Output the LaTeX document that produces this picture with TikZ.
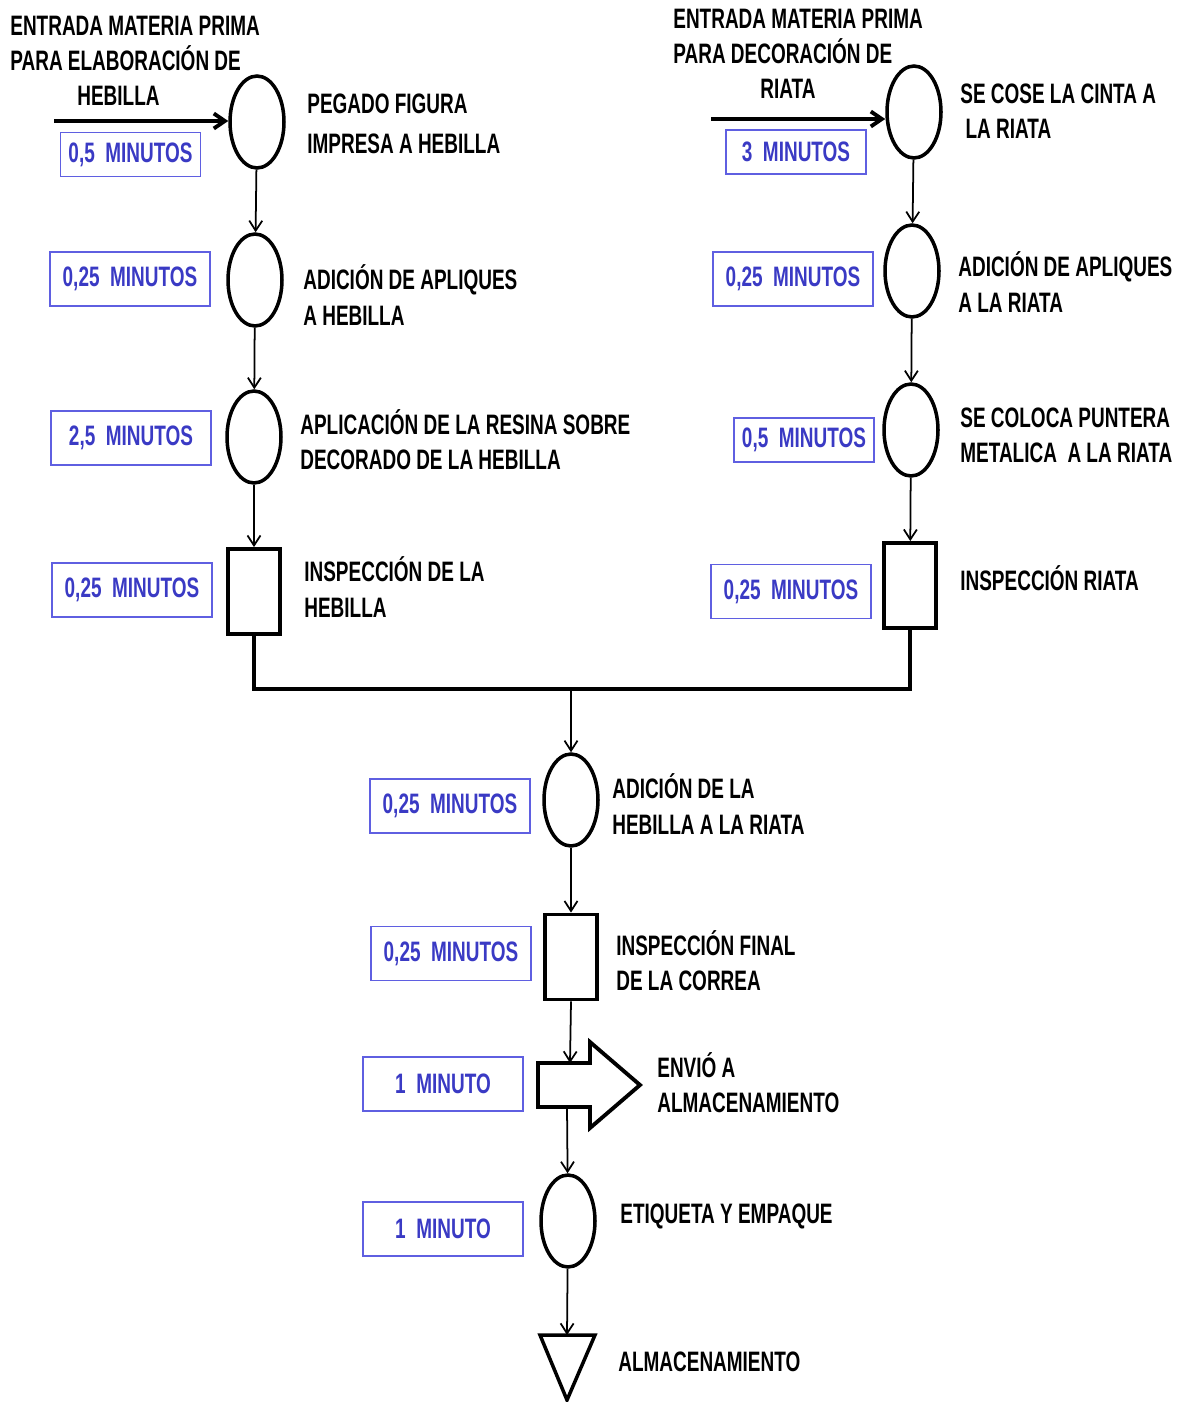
\documentclass[tikz,border=0pt]{standalone}
\usepackage{fontspec}
\setmainfont{Liberation Sans}[FakeStretch=0.675]
\usepackage{xcolor}
\usepackage{tikz}
\usetikzlibrary{shapes.geometric}
\usetikzlibrary{arrows.meta}
\usetikzlibrary{calc}
\definecolor{minblue}{RGB}{58,58,196}
\definecolor{minframe}{RGB}{95,95,225}

\begin{document}
\begin{tikzpicture}[x=0.02cm, y=-0.02cm,
	oper/.style={draw, line width=2pt, ellipse, minimum width=1.08cm, minimum height=1.84cm, inner sep=0pt},
	insp/.style={draw, line width=2.2pt, minimum width=1.04cm, minimum height=1.7cm, inner sep=0pt},
	tiempo/.style={draw=minframe, line width=0.8pt, text=minblue, minimum width=3.2cm, minimum height=1.08cm, inner sep=0pt, font=\bfseries\fontsize{16}{20}\selectfont},
	corto/.style={minimum width=2.8cm, minimum height=0.88cm},
	etiq/.style={anchor=west, align=left, inner sep=0pt, font=\bfseries\fontsize{16}{20}\selectfont},
	flecha/.style={-{Straight Barb[length=0.2cm, width=0.26cm]}, line width=1pt},
	entrada/.style={-{Straight Barb[length=0.22cm, width=0.3cm]}, line width=2.2pt}]
	\useasboundingbox (0,0) rectangle (1183,1402);
	\node[oper] (L1) at (257,122) {};
	\node[oper] (L2) at (255,280) {};
	\node[oper] (L3) at (254,437) {};
	\node[insp] (L4) at (254,591.5) {};
	\node[oper] (R1) at (914,112) {};
	\node[oper] (R2) at (912,271) {};
	\node[oper] (R3) at (911,430) {};
	\node[insp] (R4) at (910,585.5) {};
	\node[oper] (C1) at (571,800) {};
	\node[insp] (C2) at (571,957) {};
	\coordinate (C3) at (590,1085);
	\node[oper] (C4) at (568,1221) {};
	\coordinate (C5) at (567,1335);
	\coordinate (union) at (571,689);
	\coordinate (inL) at (54,121);
	\coordinate (inR) at (711,119);
	\draw[line width=2.2pt] (C3) +(-52,-22) -- +(0,-22) -- +(0,-43) -- +(50,0) -- +(0,43) -- +(0,22) -- +(-52,22) -- cycle;
	\draw[line width=2pt] (C5) +(-27,0) -- +(28,0) -- +(0,65) -- cycle;
	\coordinate (C3a) at ($(C3)+(-20,-22)$);
	\coordinate (C3b) at ($(C3)+(-23,22)$);
	\draw[entrada] (inL) -- (L1.west |- inL);
	\draw[entrada] (inR) -- (R1.west |- inR);
	\draw[flecha] (L1) -- (L2);
	\draw[flecha] (L2) -- (L3);
	\draw[flecha] (L3) -- (L4);
	\draw[flecha] (R1) -- (R2);
	\draw[flecha] (R2) -- (R3);
	\draw[flecha] (R3) -- (R4);
	\draw[line width=2.2pt] (L4.south) |- (union) -| (R4.south);
	\draw[flecha] (union) -- (C1);
	\draw[flecha] (C1) -- (C2);
	\draw[flecha] (C2.south) -- (C3a);
	\draw[flecha] (C3b) -- (C4);
	\draw[flecha] (C4) -- (C5);
	\foreach \n/\x/\y/\t in {1/130.5/154.5/{0,5\ \ MINUTOS}, 2/796/152/{3\ \ MINUTOS}, 3/804/440/{0,5\ \ MINUTOS}}
		\node[tiempo, corto] (c\n) at (\x,\y) {\t};
	\foreach \n/\x/\y/\t in {1/130/279/{0,25\ \ MINUTOS}, 2/131/438/{2,5\ \ MINUTOS}, 3/132/590/{0,25\ \ MINUTOS},
		4/793/279/{0,25\ \ MINUTOS}, 5/791/591.5/{0,25\ \ MINUTOS}, 6/450/806/{0,25\ \ MINUTOS},
		7/451/953.5/{0,25\ \ MINUTOS}, 8/443/1084/{1\ \ MINUTO}, 9/443/1229/{1\ \ MINUTO}}
		\node[tiempo] (t\n) at (\x,\y) {\t};
	\node[etiq, anchor=north west] (eL) at (10,16) {ENTRADA MATERIA PRIMA\\PARA ELABORACIÓN DE\\\hspace*{1.34cm}HEBILLA};
	\node[etiq, anchor=north west] (eR) at (673,9) {ENTRADA MATERIA PRIMA\\PARA DECORACIÓN DE\\\hspace*{1.74cm}RIATA};
	\node[etiq] (nL1) at (307,124) {PEGADO FIGURA\\[0.1cm]IMPRESA A HEBILLA};
	\node[etiq] (nL2) at (303,295) {ADICIÓN DE APLIQUES\\A HEBILLA};
	\node[etiq] (nL3) at (300,440) {APLICACIÓN DE LA RESINA SOBRE\\DECORADO DE LA HEBILLA};
	\node[etiq] (nL4) at (304,587) {INSPECCIÓN DE LA\\HEBILLA};
	\node[etiq] (nR1) at (960,111) {SE COSE LA CINTA A\\\ LA RIATA};
	\node[etiq] (nR2) at (958,282) {ADICIÓN DE APLIQUES\\A LA RIATA};
	\node[etiq] (nR3) at (960,435) {SE COLOCA PUNTERA\\METALICA\ \ A LA RIATA};
	\node[etiq] (nR4) at (960,578) {INSPECCIÓN RIATA};
	\node[etiq] (nC1) at (612,804) {ADICIÓN DE LA\\HEBILLA A LA RIATA};
	\node[etiq] (nC2) at (616,961) {INSPECCIÓN FINAL\\DE LA CORREA};
	\node[etiq] (nC3) at (657,1083) {ENVIÓ A\\ALMACENAMIENTO};
	\node[etiq] (nC4) at (620,1216) {ETIQUETA Y EMPAQUE};
	\node[etiq] (nC5) at (618,1362) {ALMACENAMIENTO};
\end{tikzpicture}
\end{document}
